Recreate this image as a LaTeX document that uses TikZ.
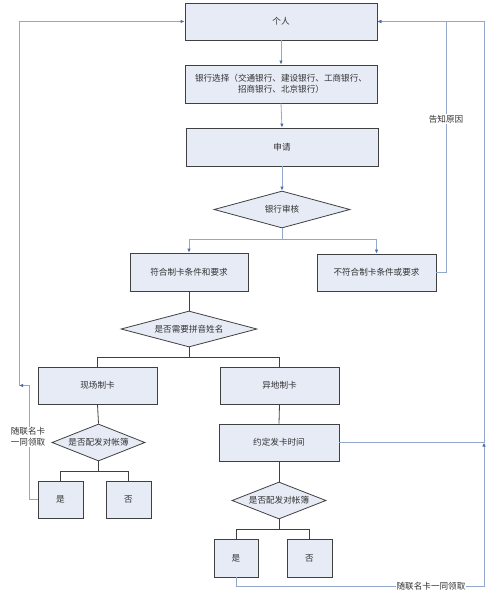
\documentclass[tikz,border=0pt]{standalone}
\usepackage{fontspec}
\setmainfont{Noto Sans CJK SC}
\usetikzlibrary{shapes.geometric, arrows.meta}

\definecolor{boxfill}{RGB}{230,235,246}
\definecolor{boxline}{RGB}{64,64,64}
\definecolor{linkcol}{RGB}{145,168,202}
\definecolor{tipcol}{RGB}{78,108,168}
\definecolor{textcol}{RGB}{50,50,50}

\begin{document}
\begin{tikzpicture}[
    x = 1pt, y = -1pt,
    font = \fontsize{8.6}{11}\selectfont,
    text = textcol,
    box/.style = {
      draw = boxline, fill = boxfill, thick,
      inner sep = 0pt, align = center
    },
    choice/.style = {
      diamond, draw = boxline, fill = boxfill, thick,
      inner sep = 0pt, aspect = 3
    },
    link/.style = {draw = linkcol, thick},
    tip/.style = {-{Latex[length = 4pt, width = 3.5pt, color = tipcol]}},
    tree/.style = {draw = boxline, thick},
    note/.style = {fill = white, inner sep = 1pt, align = center}
  ]
  \useasboundingbox (0,0) rectangle (492,594);

  % The main steps
  \node[box, minimum width = 192, minimum height = 37] (ren)      at (281,21.5) {个人};
  \node[box, minimum width = 192, minimum height = 38] (xuanze)   at (281,84)
    {银行选择（交通银行、建设银行、工商银行、\\招商银行、北京银行）};
  \node[box, minimum width = 192, minimum height = 38] (shenqing) at (282,147) {申请};
  \node[choice, minimum width = 136, minimum height = 37] (shenhe) at (282,209.5) {银行审核};

  \node[box, minimum width = 118, minimum height = 38] (fuhe) at (189,272)   {符合制卡条件和要求};
  \node[box, minimum width = 119, minimum height = 37] (buhe) at (376.5,272.5) {不符合制卡条件或要求};
  \node[choice, minimum width = 136, minimum height = 36] (pinyin) at (189,329) {是否需要拼音姓名};

  \node[box, minimum width = 119, minimum height = 37] (xianchang) at (97.5,385.5)  {现场制卡};
  \node[box, minimum width = 119, minimum height = 37] (yidi)      at (279.5,385.5) {异地制卡};
  \node[box, minimum width = 120, minimum height = 37] (yueding)   at (279,442.5)   {约定发卡时间};

  % The two account book choices
  \node[choice, minimum width = 93, minimum height = 37] (zhangbuA) at (98.5,442.5) {是否配发对帐簿};
  \node[choice, minimum width = 94, minimum height = 37] (zhangbuB) at (279,500.5)  {是否配发对帐簿};

  \node[box, minimum width = 45, minimum height = 37] (shiA) at (60.5,499.5)  {是};
  \node[box, minimum width = 45, minimum height = 37] (fouA) at (128.5,499.5) {否};
  \node[box, minimum width = 44, minimum height = 38] (shiB) at (236,558)     {是};
  \node[box, minimum width = 45, minimum height = 38] (fouB) at (309.5,558)   {否};

  % The free ends of the loops
  \coordinate (leftA)  at (19,385.5);
  \coordinate (rightB) at (484,442.5);

  % The arrows down the main steps
  \draw[link, tip] (ren.south)      -- (xuanze.north);
  \draw[link, tip] (xuanze.south)   -- (shenqing.north);
  \draw[link, tip] (shenqing.south) -- (shenhe.north);
  \draw[link, tip] (shenhe.south) -- ++(0,10.5) -| (fuhe.north);
  \draw[link, tip] (shenhe.south) -- ++(0,10.5) -| (buhe.north);

  % The plain tree lines
  \draw[tree] (fuhe.south) -- (pinyin.north);
  \draw[tree] (pinyin.south) -- ++(0,10) -| (xianchang.north);
  \draw[tree] (pinyin.south) -- ++(0,10) -| (yidi.north);
  \draw[tree] (xianchang.south) -- (zhangbuA.north);
  \draw[tree] (zhangbuA.south) -- ++(0,10) -| (shiA.north);
  \draw[tree] (zhangbuA.south) -- ++(0,10) -| (fouA.north);
  \draw[tree] (yidi.south) -- (yueding.north);
  \draw[tree] (yueding.south) -- (zhangbuB.north);
  \draw[tree] (zhangbuB.south) -- ++(0,10) -| (shiB.north);
  \draw[tree] (zhangbuB.south) -- ++(0,10) -| (fouB.north);

  % The loops back to the top
  \draw[link, tip] (shiA.west) -| (29,385.5) -- (leftA);
  \draw[link, tip] (leftA) |- (ren.west);
  \draw[link, tip] (buhe.east) -- (446,272.5) |- (ren.east);
  \draw[link, tip] (shiB.south) |- (484,586) -- (rightB);
  \draw[link, tip] (yueding.east) -- (rightB) |- (ren.east);

  % The loop labels
  \node[note] (gaozhi) at (446,119)  {告知原因};
  \node[note] (suiA)   at (28,437)   {随联名卡\\一同领取};
  \node[note] (suiB)   at (431,586)  {随联名卡一同领取};
\end{tikzpicture}
\end{document}
